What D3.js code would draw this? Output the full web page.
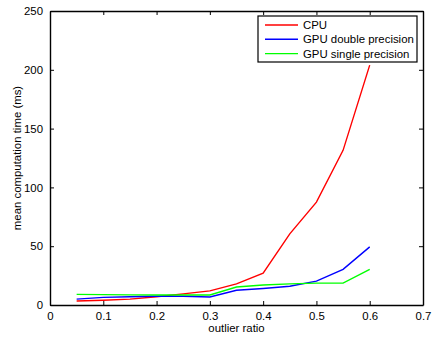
<!DOCTYPE html>
<html>
<head>
<meta charset="utf-8">
<script src="https://cdn.jsdelivr.net/npm/d3@7"></script>
<style>
  body { margin: 0; background: #fff; }
  svg { display: block; font-family: "Liberation Sans", Arial, sans-serif; }
</style>
</head>
<body>
<div id="chart"></div>
<script>
// data
const ratios = [0.05, 0.1, 0.15, 0.2, 0.25, 0.3, 0.35, 0.4, 0.45, 0.5, 0.55, 0.6];
const cpu = [3.4, 4, 5, 7, 9.5, 12, 18, 27, 60.5, 87.5, 131.5, 204];
const gpuDouble = [5, 6.5, 7, 7.5, 7.5, 6.8, 12.5, 14, 16, 20.3, 30.3, 49.4];
const gpuSingle = [9, 8.8, 8.6, 8.5, 8.5, 8.5, 15.3, 17, 18, 18.6, 18.6, 30.3];
const seriesNames = ['CPU', 'GPU double precision', 'GPU single precision'];
const seriesColors = ['#ff0000', '#0000ff', '#00ff00'];
const xTicks = [0, 0.1, 0.2, 0.3, 0.4, 0.5, 0.6, 0.7];
const yTicks = [0, 50, 100, 150, 200, 250];

const width = 432, height = 338;
const m = { left: 50, right: 9, top: 11, bottom: 33 };
const iw = width - m.left - m.right, ih = height - m.top - m.bottom;
const fs = 11.4;

const svg = d3.select('#chart').append('svg')
  .attr('width', width)
  .attr('height', height);

const x = d3.scaleLinear().domain([0, 0.7]).range([m.left, m.left + iw]);
const y = d3.scaleLinear().domain([0, 250]).range([m.top + ih, m.top]);

const allSeries = [cpu, gpuDouble, gpuSingle];
const line = d3.line().x((d, i) => x(ratios[i])).y(d => y(d));

svg.selectAll('path.series')
  .data(allSeries)
  .enter().append('path')
  .attr('class', 'series')
  .attr('d', line)
  .attr('fill', 'none')
  .attr('stroke', (d, i) => seriesColors[i])
  .attr('stroke-width', 1.4);

// axes, matlab style: ticks inside on all four sides
const tickFmt = d => String(d);
const axB = svg.append('g').attr('transform', `translate(0,${m.top + ih})`)
  .call(d3.axisBottom(x).tickValues(xTicks).tickFormat(tickFmt).tickSizeInner(-4).tickSizeOuter(0).tickPadding(7));
const axT = svg.append('g').attr('transform', `translate(0,${m.top})`)
  .call(d3.axisTop(x).tickValues(xTicks).tickFormat('').tickSizeInner(-4).tickSizeOuter(0));
const axL = svg.append('g').attr('transform', `translate(${m.left},0)`)
  .call(d3.axisLeft(y).tickValues(yTicks).tickFormat(tickFmt).tickSizeInner(-4).tickSizeOuter(0).tickPadding(7));
const axR = svg.append('g').attr('transform', `translate(${m.left + iw},0)`)
  .call(d3.axisRight(y).tickValues(yTicks).tickFormat('').tickSizeInner(-4).tickSizeOuter(0));

[axB, axT, axL, axR].forEach(g => {
  g.select('.domain').attr('stroke', '#000').attr('stroke-width', 1.4);
  g.selectAll('.tick line').attr('stroke', '#000');
  g.selectAll('text').attr('font-size', fs).attr('fill', '#000')
    .style('font-family', '"Liberation Sans", Arial, sans-serif');
});

svg.append('text')
  .attr('x', m.left + iw / 2)
  .attr('y', 332)
  .attr('text-anchor', 'middle')
  .attr('font-size', fs)
  .text('outlier ratio');

svg.append('text')
  .attr('transform', `translate(21,${m.top + ih / 2}) rotate(-90)`)
  .attr('text-anchor', 'middle')
  .attr('font-size', fs)
  .text('mean computation time (ms)');

// legend
const leg = svg.append('g').attr('transform', 'translate(258,16)');
leg.append('rect')
  .attr('width', 159).attr('height', 46)
  .attr('fill', '#fff').attr('stroke', '#000').attr('stroke-width', 1.2);
const rows = leg.selectAll('g.row')
  .data(seriesNames)
  .enter().append('g')
  .attr('transform', (d, i) => `translate(0,${9 + i * 14.3})`);
rows.append('line')
  .attr('x1', 7).attr('x2', 40)
  .attr('stroke', (d, i) => seriesColors[i])
  .attr('stroke-width', 1.4);
rows.append('text')
  .attr('x', 45).attr('y', 4)
  .attr('font-size', fs)
  .text(d => d);
</script>
</body>
</html>
